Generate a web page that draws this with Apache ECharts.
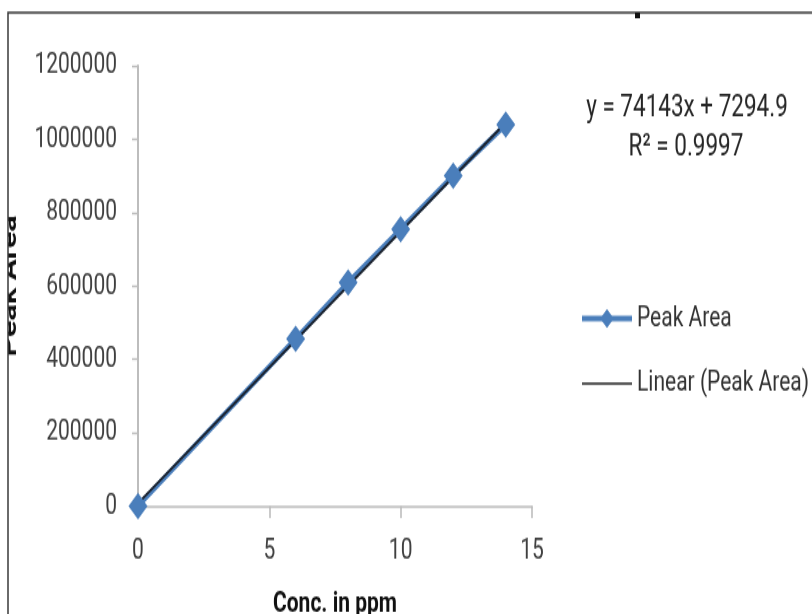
<!DOCTYPE html>
<html><head><meta charset="utf-8">
<script src="https://cdn.jsdelivr.net/npm/echarts@6/dist/echarts.min.js"></script>
<style>
html,body{margin:0;padding:0;background:#fff;overflow:hidden;}
#wrap{width:812px;height:614px;overflow:hidden;position:relative;}
#c{width:812px;height:439px;transform:scaleY(1.4);transform-origin:0 0;}
</style></head><body>
<div id="wrap"><div id="c"></div></div>
<script>
// ---- data ----
const concentrations = [0, 6, 8, 10, 12, 14];
const peakAreas = [0, 456000, 610000, 755000, 901000, 1040000];
const trendX = [0, 14];
const trendY = [7295, 1045297];
const xRange = [0, 15];
const xStep = 5;
const yRange = [0, 1200000];
const yStep = 200000;
const seriesName = 'Peak Area';
const trendName = 'Linear (Peak Area)';
const equationText = 'y = 74143x + 7294.9';
const r2Text = 'R² = 0.9997';
const xTitle = 'Conc. in ppm';
const yTitle = 'Peak Area';

const FONT = 'Roboto, "Liberation Sans", sans-serif';
const chart = echarts.init(document.getElementById('c'));
chart.setOption({
  animation: false,
  backgroundColor: '#fff',
  grid: { left: 138, right: 280, top: 47.1, bottom: 77.6, containLabel: false, outerBoundsMode: 'none' },
  xAxis: {
    type: 'value', min: xRange[0], max: xRange[1], interval: xStep,
    name: xTitle, nameLocation: 'middle', nameGap: 60,
    nameTextStyle: { fontFamily: FONT, fontSize: 21, fontWeight: 'bold', color: '#111' },
    axisLine: { show: true, lineStyle: { color: '#bdbdbd', width: 1.6 } },
    axisTick: { show: true, length: 8.6, lineStyle: { color: '#bdbdbd', width: 1.6 } },
    axisLabel: { margin: 20, fontFamily: FONT, fontSize: 21, lineHeight: 24, color: '#404040' },
    splitLine: { show: false }
  },
  yAxis: {
    type: 'value', min: yRange[0], max: yRange[1], interval: yStep,
    name: yTitle, nameLocation: 'middle', nameGap: 117, nameRotate: 90,
    nameTextStyle: { fontFamily: FONT, fontSize: 22, fontWeight: 'bold', color: '#111' },
    axisLine: { show: true, lineStyle: { color: '#bdbdbd', width: 2 } },
    axisTick: { show: true, length: 6, lineStyle: { color: '#bdbdbd', width: 1.4 } },
    axisLabel: { margin: 21, fontFamily: FONT, fontSize: 21, color: '#404040', formatter: v => String(v) },
    splitLine: { show: false }
  },
  legend: {
    orient: 'vertical', left: 580, top: 215.5, padding: 0,
    itemWidth: 50, itemHeight: 17, itemGap: 22.4,
    textStyle: { fontFamily: FONT, fontSize: 21, lineHeight: 24, color: '#333' },
    data: [
      { name: seriesName, lineStyle: { color: '#4a7ebb', width: 4 } },
      { name: trendName, lineStyle: { color: '#5a5a5a', width: 2 }, itemStyle: { opacity: 0 } }
    ]
  },
  series: [
    {
      name: seriesName, type: 'line',
      data: concentrations.map((x, i) => [x, peakAreas[i]]),
      symbol: 'diamond', symbolSize: 19,
      lineStyle: { color: '#4a7ebb', width: 4 },
      itemStyle: { color: '#4a7ebb' }
    },
    {
      name: trendName, type: 'line',
      data: trendX.map((x, i) => [x, trendY[i]]),
      symbol: 'none',
      lineStyle: { color: '#1c2430', width: 2 },
      itemStyle: { color: '#1c2430' }
    }
  ],
  graphic: [
    { type: 'text', x: 687, y: 77, z: 50,
      style: { text: equationText, font: '22.5px ' + FONT, fill: '#262626', align: 'center', verticalAlign: 'middle' } },
    { type: 'text', x: 686, y: 105.2, z: 50,
      style: { text: r2Text, font: '22.5px ' + FONT, fill: '#262626', align: 'center', verticalAlign: 'middle' } },
    { type: 'rect', z: 60, shape: { x: 0, y: 0, width: 8, height: 439 }, style: { fill: '#fff' } },
    { type: 'rect', z: 61, shape: { x: 8, y: 8.9, width: 900, height: 600 }, style: { fill: 'none', stroke: '#3a3a3a', lineWidth: 1.5 } },
    { type: 'rect', z: 61, shape: { x: 635, y: 9, width: 5, height: 4 }, style: { fill: '#111' } }
  ]
});
</script>
</body></html>
